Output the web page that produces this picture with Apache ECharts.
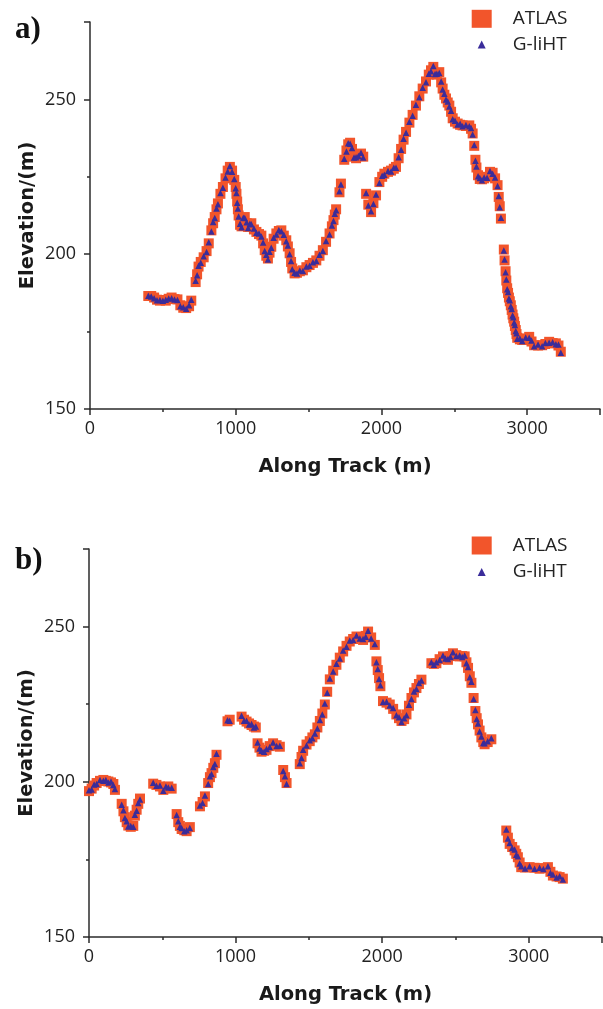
<!DOCTYPE html>
<html>
<head>
<meta charset="utf-8">
<script src="https://cdn.jsdelivr.net/npm/echarts@6/dist/echarts.min.js"></script>
<style>
    html, body { margin: 0; padding: 0; background: #fff; }
    #chart { width: 603px; height: 1009px; }
</style>
</head>
<body>
<div id="chart"></div>
<script>
// panel a) along-track distance (m) and elevations (m)
const trackA = [
    400,420,440,460,480,500,520,540,560,580,
    600,620,640,660,680,695,725,735,745,760,
    780,800,815,833,845,856,868,878,895,912,
    930,945,960,975,990,1000,1005,1010,1015,1020,
    1030,1040,1052,1062,1075,1085,1097,1107,1125,1142,
    1160,1176,1188,1199,1210,1221,1232,1244,1260,1279,
    1296,1313,1330,1347,1358,1370,1380,1388,1404,1420,
    1440,1461,1485,1507,1530,1553,1575,1598,1620,1644,
    1660,1671,1680,1689,1712,1722,1745,1760,1772,1785,
    1798,1812,1826,1842,1860,1875,1895,1910,1929,1945,
    1963,1986,2005,2020,2045,2066,2085,2100,2118,2135,
    2152,2169,2192,2214,2237,2260,2283,2306,2325,2340,
    2356,2368,2380,2397,2410,2420,2432,2443,2455,2466,
    2478,2489,2505,2523,2540,2557,2580,2603,2615,2626,
    2637,2645,2652,2663,2675,2690,2705,2725,2745,2763,
    2780,2797,2805,2812,2820,2840,2845,2852,2857,2863,
    2869,2875,2881,2888,2894,2900,2905,2911,2916,2922,
    2927,2932,2950,2966,2990,3014,3030,3048,3075,3103,
    3125,3151,3175,3197,3215,3231
];
const atlasA = [
    186.5,186.5,186.0,185.3,185.0,185.2,185.0,185.6,186.0,185.5,
    185.4,183.5,182.7,182.6,183.2,185.0,191.0,193.5,196.0,197.5,
    199.0,201.0,203.5,207.7,210.0,212.0,214.5,216.4,219.5,221.7,
    224.5,227.0,228.2,227.0,224.0,221.7,219.5,217.0,214.5,212.5,
    209.5,209.0,211.5,212.0,210.0,208.8,209.5,210.0,208.0,207.2,
    206.5,206.0,203.5,201.3,199.5,198.6,200.5,202.4,205.0,206.7,
    207.5,207.7,206.0,204.5,202.5,200.3,197.5,195.4,193.8,194.0,
    194.5,194.8,195.8,196.5,197.2,198.0,199.5,201.3,204.0,206.7,
    209.0,211.0,212.8,214.5,220.0,222.8,230.5,233.5,235.5,236.0,
    234.0,231.5,231.0,232.0,232.5,231.5,219.5,216.0,213.6,216.5,
    219.0,223.3,225.0,226.0,226.6,227.0,227.6,228.2,231.0,234.0,
    237.0,239.5,242.5,245.0,248.0,251.0,253.5,255.8,258.0,259.4,
    260.5,258.5,258.0,258.8,255.5,253.5,251.5,250.3,249.0,248.0,
    246.0,243.9,242.8,242.2,241.8,241.6,241.4,241.6,240.5,239.0,
    235.0,230.5,228.0,225.5,224.3,224.2,224.5,225.0,226.6,226.3,
    224.5,222.3,218.5,215.5,211.5,201.5,198.0,194.5,191.5,189.0,
    187.5,186.0,184.8,183.5,182.0,180.5,179.3,178.2,176.8,175.5,
    174.2,173.0,172.5,172.3,172.8,173.3,171.8,170.6,170.5,170.6,
    171.0,171.7,171.3,171.2,170.5,168.5
];
const glihtA = [
    186.6,186.3,185.8,185.1,185.2,185.0,185.3,185.7,185.8,185.4,
    185.2,183.2,182.9,182.4,183.5,185.3,191.4,193.2,196.3,197.2,
    199.3,200.7,203.9,207.3,210.4,211.7,214.8,216.1,219.8,221.5,
    224.8,226.7,228.5,226.6,224.3,221.3,219.8,216.6,214.8,212.2,
    209.8,208.7,211.8,211.7,210.3,208.5,209.8,209.7,208.3,206.9,
    206.7,205.7,203.8,201.0,199.8,198.3,200.8,202.1,205.3,206.4,
    207.8,207.4,206.3,204.2,202.8,200.0,197.8,195.1,194.0,193.8,
    194.7,194.6,196.0,196.3,197.4,197.8,199.8,201.0,204.3,206.4,
    209.3,210.7,213.1,214.2,220.3,222.5,230.8,233.2,235.8,235.7,
    234.3,231.2,231.3,231.7,232.8,231.2,219.8,215.7,213.9,216.2,
    219.3,223.0,225.3,225.7,226.9,226.7,227.9,227.9,231.3,233.7,
    237.3,239.2,242.8,244.7,248.3,250.7,253.8,255.5,258.3,259.1,
    260.8,258.2,258.3,258.5,255.8,253.2,251.8,250.0,249.3,247.7,
    246.3,243.6,243.1,241.9,242.1,241.3,241.7,241.3,240.8,238.7,
    235.3,230.2,228.3,225.2,224.6,223.9,224.8,224.7,226.9,226.0,
    224.8,222.0,218.8,215.2,211.8,201.2,198.3,194.2,191.8,188.7,
    187.8,185.7,185.1,183.2,182.3,180.2,179.6,177.9,177.1,175.2,
    174.5,172.7,172.8,172.0,173.1,173.0,172.1,170.3,170.8,170.3,
    171.3,171.4,171.6,170.9,170.8,168.2
];

// panel b)
const trackB = [
    0,18,35,52,75,98,115,132,150,166,
    177,223,235,245,257,268,285,302,313,325,
    336,348,438,460,484,507,525,541,564,598,
    609,620,632,650,666,688,757,775,791,813,
    825,836,848,859,870,945,960,1041,1058,1075,
    1092,1109,1125,1138,1150,1163,1177,1195,1211,1233,
    1256,1280,1302,1325,1337,1348,1438,1450,1461,1484,
    1506,1524,1541,1558,1575,1592,1609,1625,1643,1666,
    1688,1711,1734,1757,1779,1802,1825,1848,1870,1888,
    1904,1925,1950,1961,1970,1979,1988,2006,2030,2052,
    2075,2097,2115,2132,2150,2166,2183,2200,2217,2234,
    2251,2268,2336,2353,2370,2392,2415,2432,2449,2466,
    2483,2506,2529,2546,2563,2575,2586,2598,2609,2624,
    2636,2645,2654,2665,2677,2690,2699,2720,2745,2847,
    2858,2870,2887,2904,2915,2926,2938,2949,2975,3006,
    3040,3074,3100,3131,3148,3165,3190,3211,3233
];
const atlasB = [
    197.0,197.8,198.8,199.6,200.3,200.6,200.3,200.1,199.8,199.3,
    197.4,192.9,190.5,188.6,187.0,185.9,185.5,185.8,189.1,191.0,
    192.9,194.6,199.4,199.0,198.5,197.4,198.2,198.5,197.8,189.6,
    187.0,185.8,184.8,184.4,184.1,185.4,192.1,193.5,195.3,199.6,
    201.5,202.8,204.5,206.0,208.7,219.5,220.0,221.0,220.0,219.4,
    218.8,218.3,217.8,217.5,212.4,211.0,209.7,210.0,210.3,211.5,
    212.4,211.8,211.3,203.8,201.5,199.6,205.7,208.0,210.0,212.0,
    213.1,214.3,215.3,217.5,219.6,222.0,224.9,229.0,233.0,235.8,
    237.7,240.0,242.0,243.8,245.2,246.0,246.8,246.5,245.7,247.0,
    248.4,246.5,244.1,238.8,236.0,233.4,230.8,226.0,225.5,224.9,
    223.5,221.7,220.5,219.6,220.2,221.7,224.5,227.0,228.8,230.2,
    231.5,232.9,238.2,238.0,238.2,239.5,240.4,240.0,239.3,240.5,
    241.4,240.8,240.4,240.5,240.4,238.5,236.7,234.0,231.9,227.0,
    222.8,220.5,218.5,216.5,214.3,212.8,212.1,212.8,213.7,184.3,
    182.0,180.0,179.0,177.9,176.8,175.7,174.0,172.5,172.4,172.5,
    172.3,172.0,172.2,172.5,171.0,169.8,169.5,169.3,168.8
];
const glihtB = [
    197.3,197.5,199.1,199.3,200.6,200.3,200.6,199.8,200.1,199.0,
    197.7,192.6,190.8,188.3,187.3,185.6,185.8,185.5,189.4,190.7,
    193.2,194.3,199.7,198.7,198.8,197.1,198.5,198.2,198.1,189.3,
    187.3,185.5,185.1,184.1,184.4,185.1,192.4,193.2,195.6,199.3,
    201.8,202.5,204.8,205.7,209.0,219.8,219.7,221.3,219.7,219.7,
    218.5,218.6,217.5,217.8,212.7,210.7,210.0,209.7,210.6,211.2,
    212.7,211.5,211.6,203.5,201.8,199.3,206.0,207.7,210.3,211.7,
    213.4,214.0,215.6,217.2,219.9,221.7,225.2,228.7,233.3,235.5,
    238.0,239.7,242.3,243.5,245.5,245.7,247.1,246.2,246.0,246.7,
    248.7,246.2,244.4,238.5,236.3,233.1,231.1,225.7,225.8,224.6,
    223.8,221.4,220.8,219.3,220.5,221.4,224.8,226.7,229.1,229.9,
    231.8,232.6,238.5,237.7,238.5,239.2,240.7,239.7,239.6,240.2,
    241.7,240.5,240.7,240.2,240.7,238.2,237.0,233.7,232.2,226.7,
    223.1,220.2,218.8,216.2,214.6,212.5,212.4,213.1,214.0,184.6,
    181.7,180.3,178.7,178.2,176.5,176.0,173.7,172.8,172.1,172.8,
    172.0,172.3,171.9,172.8,170.7,170.1,169.2,169.6,168.5
];

const panelLabels = ['a)', 'b)'];
const seriesNames = ['ATLAS', 'G-liHT'];

const ORANGE = '#F2552B';
const PURPLE = '#3A2C9A';
const AXIS = '#2b2b2b';
const FONT = '"Open Sans", "Noto Sans", sans-serif';
const NAME_FONT = '"DejaVu Sans", sans-serif';

const pairs = (xs, ys) => xs.map((x, i) => [x, ys[i]]);

const xAxisFor = (idx) => ({
    gridIndex: idx,
    type: 'value',
    min: 0,
    max: 3500,
    interval: 1000,
    name: 'Along Track (m)',
    nameLocation: 'middle',
    nameGap: 48,
    nameMoveOverlap: false,
    nameTextStyle: { fontFamily: NAME_FONT, fontWeight: 'bold', fontSize: 19.5, color: '#1a1a1a' },
    axisLine: { show: true, onZero: false, lineStyle: { color: AXIS, width: 1.5 } },
    axisTick: { show: true, length: 6, lineStyle: { color: AXIS, width: 1.5 } },
    minorTick: { show: true, splitNumber: 2, length: 3, lineStyle: { color: AXIS, width: 1.5 } },
    axisLabel: { showMaxLabel: false, margin: 11, fontFamily: FONT, fontSize: 18, color: '#222',
                 formatter: v => String(v) },
    splitLine: { show: false }
});

const yAxisFor = (idx) => ({
    gridIndex: idx,
    type: 'value',
    min: 150,
    max: 275,
    interval: 50,
    name: 'Elevation/(m)',
    nameLocation: 'middle',
    nameGap: 52,
    nameMoveOverlap: false,
    nameTextStyle: { fontFamily: NAME_FONT, fontWeight: 'bold', fontSize: 19.5, color: '#1a1a1a' },
    axisLine: { show: true, onZero: false, lineStyle: { color: AXIS, width: 1.5 } },
    axisTick: { show: true, length: 6, lineStyle: { color: AXIS, width: 1.5 } },
    minorTick: { show: true, splitNumber: 2, length: 3, lineStyle: { color: AXIS, width: 1.5 } },
    axisLabel: { showMaxLabel: false, margin: 14, fontFamily: FONT, fontSize: 18, color: '#222',
                 formatter: v => String(v) },
    splitLine: { show: false }
});

const legendFor = (name, top, isSquare) => ({
    data: [name],
    left: isSquare ? 471.7 : 477.7,
    top: top,
    padding: 0,
    icon: isSquare ? 'rect' : 'triangle',
    itemWidth: isSquare ? 20 : 8,
    itemHeight: isSquare ? 18 : 8,
    selectedMode: false,
    textStyle: {
        fontFamily: FONT, fontSize: 19, color: '#222', lineHeight: 20,
        padding: [0, 0, 0, isSquare ? 16 : 22]
    }
});

const scatterFor = (idx, name, data) => ({
    name: name,
    type: 'scatter',
    xAxisIndex: idx,
    yAxisIndex: idx,
    symbol: name === 'ATLAS' ? 'rect' : 'triangle',
    symbolSize: name === 'ATLAS' ? 10 : 6.5,
    itemStyle: { color: name === 'ATLAS' ? ORANGE : PURPLE, opacity: 1 },
    z: name === 'ATLAS' ? 2 : 3,
    data: data
});

const chart = echarts.init(document.getElementById('chart'));
chart.setOption({
    animation: false,
    backgroundColor: '#fff',
    title: [
        { text: panelLabels[0], left: 15, top: 14, padding: 0,
          textStyle: { fontFamily: '"Liberation Serif", serif', fontWeight: 'bold', fontSize: 31, color: '#111' } },
        { text: panelLabels[1], left: 15, top: 545, padding: 0,
          textStyle: { fontFamily: '"Liberation Serif", serif', fontWeight: 'bold', fontSize: 31, color: '#111' } }
    ],
    legend: [
        legendFor(seriesNames[0], 8.8, true),
        legendFor(seriesNames[1], 34.5, false),
        legendFor(seriesNames[0], 535.5, true),
        legendFor(seriesNames[1], 562, false)
    ],
    grid: [
        { left: 90, top: 22, width: 510, height: 387 },
        { left: 89, top: 549, width: 513, height: 388 }
    ],
    xAxis: [xAxisFor(0), xAxisFor(1)],
    yAxis: [yAxisFor(0), yAxisFor(1)],
    series: [
        scatterFor(0, seriesNames[0], pairs(trackA, atlasA)),
        scatterFor(0, seriesNames[1], pairs(trackA, glihtA)),
        scatterFor(1, seriesNames[0], pairs(trackB, atlasB)),
        scatterFor(1, seriesNames[1], pairs(trackB, glihtB))
    ]
});
</script>
</body>
</html>
